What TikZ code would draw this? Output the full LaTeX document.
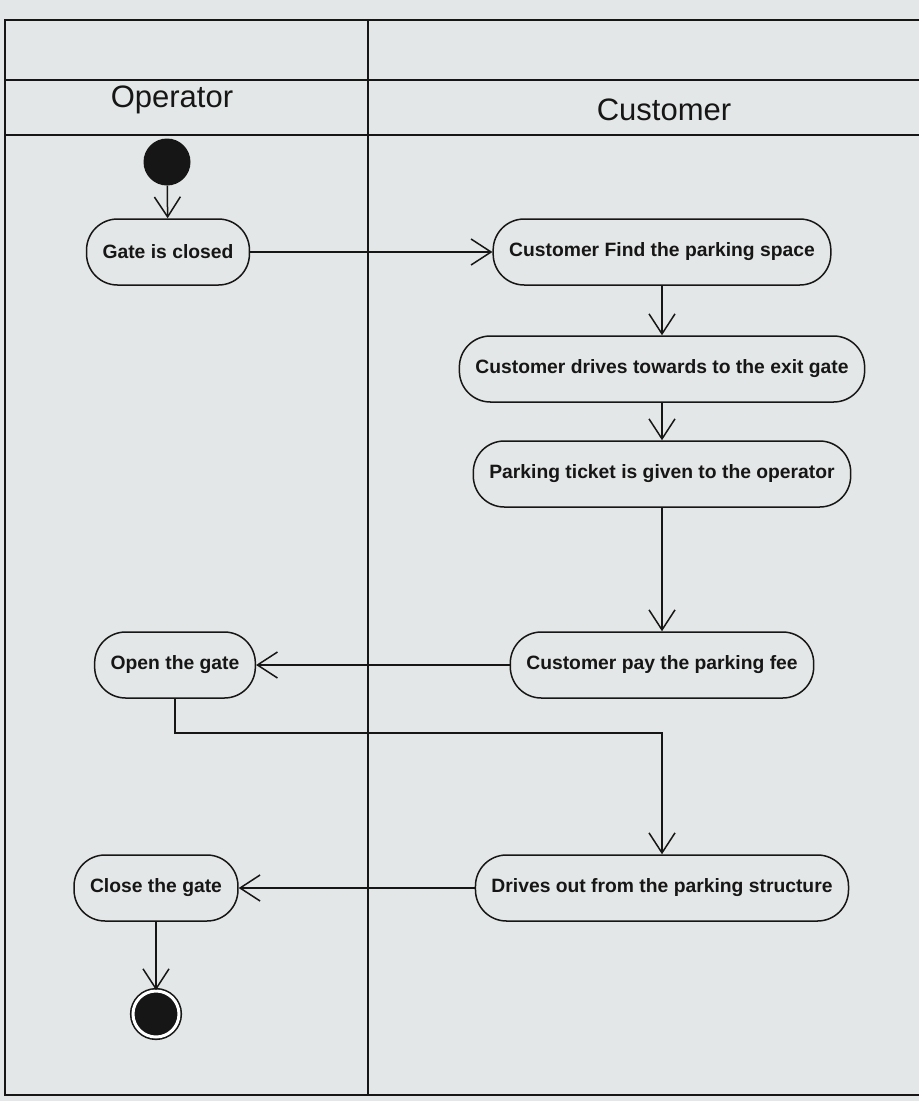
\documentclass[tikz,border=0pt]{standalone}
\usepackage{fontspec}
\setmainfont{Liberation Sans}
\usetikzlibrary{arrows.meta}
\definecolor{paper}{RGB}{228,231,231}
\definecolor{ink}{RGB}{22,22,22}

\begin{document}
\begin{tikzpicture}[x=1pt,y=-1pt,
    act/.style={draw=ink,line width=1.5pt,rounded corners=31pt,minimum height=66pt,inner xsep=16pt,text=ink,font=\fontsize{19.3}{22}\selectfont\bfseries},
    flow/.style={draw=ink,line width=1.5pt,-{Straight Barb[length=20pt,width=26pt]}},
    lane/.style={draw=ink,line width=2.6pt},
    head/.style={text=ink,font=\fontsize{31}{36}\selectfont}]
  \fill[paper] (0,0) rectangle (919,1101);

  % swimlanes
  \draw[lane] (919,20) -- (5,20) -- (5,1095) -- (919,1095);
  \draw[lane] (5,80) -- (919,80);
  \draw[lane] (5,135) -- (919,135);
  \draw[ink,line width=2pt] (368,20) -- (368,1095);
  \node[head] (op) at (172,100) {Operator};
  \node[head] (cu) at (664,110) {Customer};

  \node[circle,fill=ink,minimum size=47pt,inner sep=0pt] (0) at (167,162) {};
  \node[act] (1) at (168,252) {Gate is closed};
  \node[act] (2) at (662,252) {Customer Find the parking space};
  \node[act] (3) at (662,369) {Customer drives towards to the exit gate};
  \node[act] (4) at (662,474) {Parking ticket is given to the operator};
  \node[act] (5) at (662,665) {Customer pay the parking fee};
  \node[act] (6) at (175,665) {Open the gate};
  \node[act] (7) at (662,888) {Drives out from the parking structure};
  \node[act] (8) at (156,888) {Close the gate};
  \node[circle,fill=ink,draw=ink,double=white,double distance=3pt,line width=1.6pt,minimum size=46pt,inner sep=0pt] (9) at (156,1014) {};
  \coordinate (k) at (662,733);

  \draw[flow] (0) -- (1);
  \draw[flow] (1) -- (2);
  \draw[flow] (2) -- (3);
  \draw[flow] (3) -- (4);
  \draw[flow] (4) -- (5);
  \draw[flow] (5) -- (6);
  \draw[flow] (6) |- (k) -- (7);
  \draw[flow] (7) -- (8);
  \draw[flow] (8) -- (9);
\end{tikzpicture}
\end{document}
